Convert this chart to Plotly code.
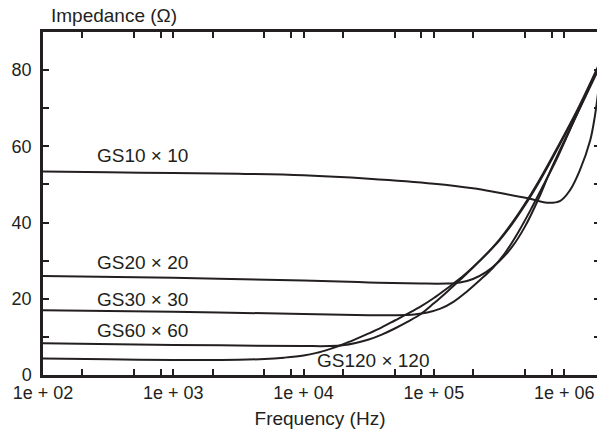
import plotly.graph_objects as go

# Frequencies (log10 Hz) and impedance (ohm)
gs10_logf = [2.0, 2.5, 3.0, 3.5, 4.0, 4.5, 5.0, 5.3, 5.5, 5.72, 5.87, 5.97, 6.045, 6.12, 6.2, 6.236, 6.26]
gs10_z = [53.4, 53.2, 53.0, 52.8, 52.4, 51.5, 50.2, 49.0, 47.8, 46.4, 45.2, 45.7, 48.5, 53.7, 61.6, 68.0, 74.0]

gs20_logf = [2.0, 3.0, 4.0, 4.5, 4.9, 5.1, 5.2, 5.3, 5.4, 5.5, 5.6, 5.7, 5.8, 5.9, 6.1, 6.26]
gs20_z = [26.0, 25.5, 24.8, 24.3, 24.0, 24.0, 24.3, 25.2, 27.0, 29.8, 33.6, 39.0, 46.0, 54.0, 68.5, 80.0]

gs30_logf = [2.0, 3.0, 4.0, 4.5, 4.7, 4.85, 4.95, 5.05, 5.15, 5.25, 5.35, 5.45, 5.55, 5.65, 5.75, 5.85, 5.95, 6.1, 6.26]
gs30_z = [17.0, 16.6, 16.0, 15.7, 15.7, 15.9, 16.4, 17.4, 19.2, 21.8, 24.8, 28.0, 32.2, 37.6, 43.8, 50.4, 57.2, 68.6, 80.5]

gs60_logf = [2.0, 3.0, 4.0, 4.2, 4.3, 4.4, 4.5, 4.6, 4.7, 4.8, 4.9, 5.0, 5.1, 5.2, 5.3, 5.4, 5.5, 5.6, 5.7, 5.8, 5.9, 6.1, 6.26]
gs60_z = [8.3, 7.9, 7.6, 7.6, 7.8, 8.4, 9.3, 10.6, 12.2, 14.0, 16.0, 18.8, 21.8, 24.9, 28.2, 31.6, 35.2, 39.6, 44.6, 50.2, 56.3, 69.2, 80.5]

gs120_logf = [2.0, 2.5, 3.0, 3.5, 3.7, 3.85, 4.0, 4.1, 4.2, 4.3, 4.4, 4.5, 4.6, 4.7, 4.8, 4.9, 5.0, 5.1, 5.2, 5.3, 5.4, 5.5, 5.6, 5.7, 5.8, 5.9, 6.1, 6.26]
gs120_z = [4.3, 4.1, 3.95, 4.0, 4.2, 4.55, 5.1, 5.8, 6.8, 8.0, 9.4, 10.9, 12.5, 14.3, 16.1, 18.0, 20.2, 22.7, 25.3, 28.3, 31.6, 35.4, 39.9, 45.0, 50.6, 56.7, 69.5, 81.0]

series = [
    ("GS10 × 10", gs10_logf, gs10_z),
    ("GS20 × 20", gs20_logf, gs20_z),
    ("GS30 × 30", gs30_logf, gs30_z),
    ("GS60 × 60", gs60_logf, gs60_z),
    ("GS120 × 120", gs120_logf, gs120_z),
]

# label anchor positions (log10 f, ohm)
label_pos = {
    "GS10 × 10": (2.40, 57.7),
    "GS20 × 20": (2.40, 29.6),
    "GS30 × 30": (2.40, 19.8),
    "GS60 × 60": (2.40, 11.7),
    "GS120 × 120": (4.09, 3.8),
}

x_major = [1e2, 1e3, 1e4, 1e5, 1e6]
x_major_text = ["1e + 02", "1e + 03", "1e + 04", "1e + 05", "1e + 06"]
x_minor = [m * 10 ** e for e in range(2, 6) for m in (2, 5, 8)] + [2e6]
y_ticks = [0, 10, 20, 30, 40, 50, 60, 70, 80]
y_text = ["0\u00a0", "", "20\u00a0", "", "40\u00a0", "", "60\u00a0", "", "80\u00a0"]

INK = "#231f20"
FONT = "Liberation Sans, Arial, sans-serif"

fig = go.Figure()
for name, lf, z in series:
    fig.add_trace(go.Scatter(
        x=[10 ** v for v in lf], y=z, mode="lines", name=name,
        line=dict(color=INK, width=2, shape="spline", smoothing=1.0),
        showlegend=False, hoverinfo="skip"))
fig.add_trace(go.Scatter(x=[], y=[], yaxis="y2", showlegend=False))

for name, (lx, ly) in label_pos.items():
    fig.add_annotation(x=lx, y=ly, xref="x", yref="y", text=name, showarrow=False,
                       xanchor="left", yanchor="middle",
                       font=dict(family=FONT, size=19, color=INK))

fig.add_annotation(x=0, y=1, xref="paper", yref="paper", text="Impedance (Ω)",
                   showarrow=False, xanchor="left", yanchor="bottom", xshift=6, yshift=4,
                   font=dict(family=FONT, size=19, color=INK))

fig.update_layout(
    width=597, height=432,
    margin=dict(l=43, r=0, t=32, b=57),
    paper_bgcolor="white", plot_bgcolor="white",
    font=dict(family=FONT, size=18, color=INK),
    xaxis=dict(
        type="log", range=[2, 6.252], showgrid=False, zeroline=False,
        showline=True, linewidth=2.5, linecolor=INK, mirror="allticks",
        ticks="inside", ticklen=6, tickwidth=2, tickcolor=INK,
        tickvals=x_major, ticktext=x_major_text,
        tickfont=dict(family=FONT, size=18, color=INK),
        minor=dict(tickvals=x_minor, ticks="inside", ticklen=3, tickwidth=2, tickcolor=INK, showgrid=False),
        title=dict(text="Frequency (Hz)", font=dict(family=FONT, size=19, color=INK), standoff=10),
    ),
    yaxis=dict(
        range=[0, 90], showgrid=False, zeroline=False,
        showline=True, linewidth=2.5, linecolor=INK,
        ticks="inside", ticklen=6, tickwidth=2, tickcolor=INK,
        tickvals=y_ticks, ticktext=y_text,
        tickfont=dict(family=FONT, size=18, color=INK),
    ),
    yaxis2=dict(
        overlaying="y", side="right", range=[0, 90], showgrid=False, zeroline=False,
        showline=False, ticks="inside", ticklen=3, tickwidth=2, tickcolor=INK,
        tickvals=y_ticks[1:], showticklabels=False,
    ),
)

fig.write_html("out.html")
